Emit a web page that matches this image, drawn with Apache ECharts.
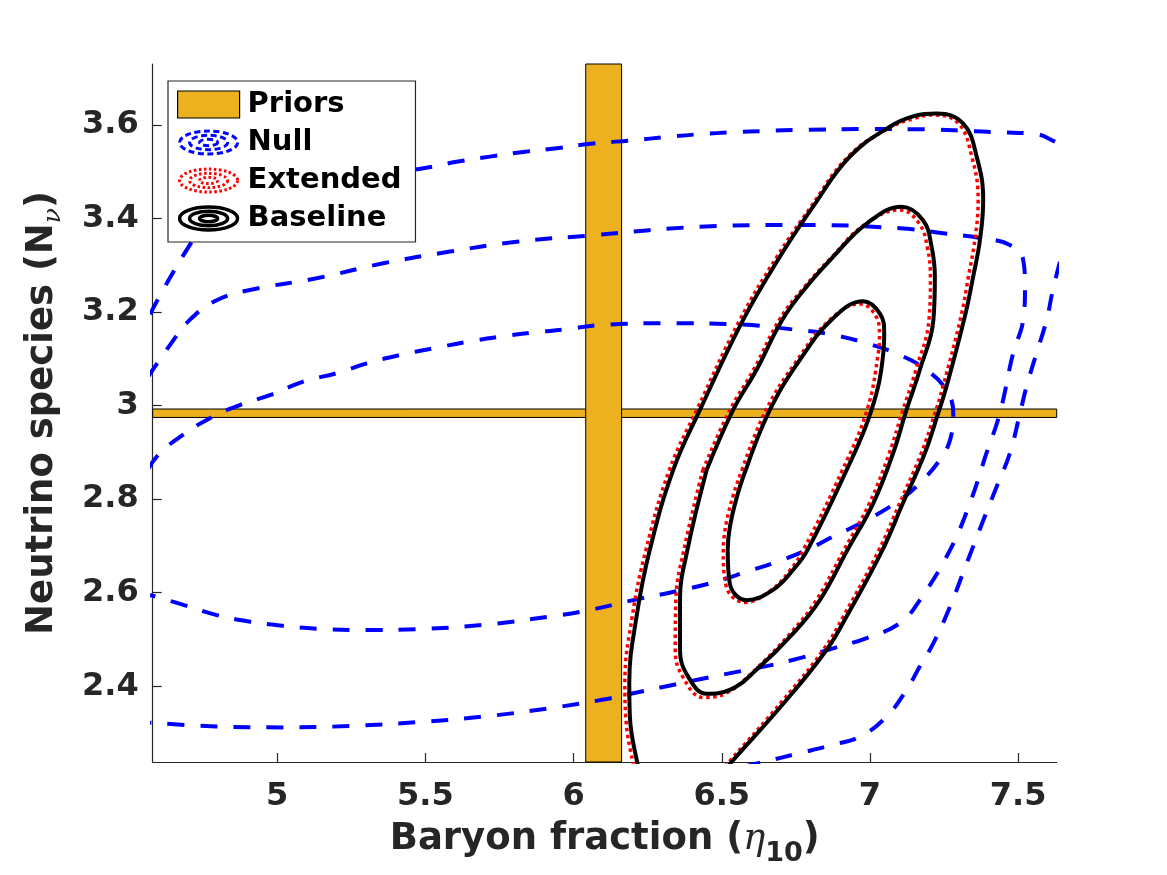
<!DOCTYPE html>
<html><head><meta charset="utf-8">
<script src="https://cdn.jsdelivr.net/npm/echarts@6/dist/echarts.min.js"></script>
<style>html,body{margin:0;padding:0;background:#fff}#c{width:1167px;height:875px}</style>
</head><body><div id="c"></div>
<script>
// ---- axis ranges and ticks ----
const xRange = [4.58, 7.63];
const yRange = [2.238, 3.73];
const xTicks = [5, 5.5, 6, 6.5, 7, 7.5];
const yTicks = [2.4, 2.6, 2.8, 3.0, 3.2, 3.4, 3.6];

// ---- priors (bands) ----
const priorEta = [6.041, 6.162];
const priorN = [2.9745, 2.9925];

// ---- Baseline contours (black solid) ----
const baselineOuter = [[6.227,2.217],[6.2145,2.238],[6.190,2.335],[6.188,2.406],[6.2125,2.549],[6.257,2.691],[6.336,2.862],[6.426,2.990],[6.572,3.183],[6.696,3.318],[6.808,3.425],[6.932,3.532],[7.067,3.596],[7.151,3.619],[7.225,3.624],[7.314,3.603],[7.360,3.532],[7.382,3.439],[7.371,3.354],[7.348,3.275],[7.320,3.190],[7.258,3.040],[7.230,2.983],[7.185,2.898],[7.111,2.791],[7.042,2.691],[6.921,2.549],[6.854,2.478],[6.719,2.371],[6.533,2.238],[6.494,2.210]];
const baselineMiddle = [[6.449,2.862],[6.538,2.990],[6.617,3.076],[6.704,3.183],[6.786,3.254],[6.876,3.318],[6.989,3.389],[7.107,3.425],[7.179,3.396],[7.208,3.339],[7.219,3.275],[7.214,3.183],[7.168,3.076],[7.123,2.990],[7.078,2.898],[7.011,2.791],[6.924,2.691],[6.831,2.584],[6.741,2.513],[6.617,2.435],[6.527,2.392],[6.449,2.384],[6.387,2.420],[6.359,2.478],[6.359,2.584],[6.384,2.691],[6.449,2.862]];
const baselineInner = [[6.581,2.862],[6.662,2.990],[6.763,3.097],[6.875,3.186],[6.977,3.223],[7.033,3.197],[7.048,3.155],[7.045,3.112],[7.005,2.990],[6.921,2.862],[6.789,2.691],[6.741,2.649],[6.673,2.606],[6.584,2.584],[6.527,2.620],[6.520,2.691],[6.581,2.862]];

// ---- Extended contours (red dotted) ----
const extendedOuter = [[6.214,2.217],[6.200,2.238],[6.176,2.335],[6.173,2.406],[6.198,2.549],[6.244,2.691],[6.323,2.862],[6.415,2.990],[6.561,3.183],[6.686,3.318],[6.801,3.425],[6.925,3.531],[7.060,3.592],[7.151,3.614],[7.212,3.621],[7.297,3.604],[7.344,3.531],[7.365,3.439],[7.354,3.354],[7.332,3.275],[7.307,3.190],[7.246,3.040],[7.219,2.983],[7.173,2.898],[7.100,2.791],[7.030,2.691],[6.910,2.549],[6.843,2.478],[6.708,2.371],[6.524,2.238],[6.483,2.210]];
const extendedMiddle = [[6.436,2.862],[6.527,2.990],[6.607,3.076],[6.694,3.183],[6.777,3.252],[6.868,3.315],[6.979,3.385],[7.101,3.418],[7.165,3.390],[7.194,3.337],[7.204,3.272],[7.199,3.183],[7.155,3.076],[7.111,2.990],[7.065,2.898],[6.998,2.791],[6.912,2.691],[6.819,2.584],[6.730,2.512],[6.607,2.432],[6.517,2.386],[6.438,2.376],[6.372,2.416],[6.343,2.478],[6.345,2.584],[6.372,2.691],[6.436,2.862]];
const extendedInner = [[6.568,2.862],[6.649,2.990],[6.750,3.093],[6.861,3.181],[6.966,3.217],[7.020,3.191],[7.032,3.151],[7.028,3.112],[6.990,2.990],[6.907,2.862],[6.775,2.691],[6.728,2.646],[6.662,2.603],[6.578,2.579],[6.514,2.616],[6.505,2.691],[6.568,2.862]];

// ---- Null contours (blue dashed) ----
const nullInner = [[4.564,2.864],[4.604,2.898],[4.672,2.933],[4.773,2.973],[4.874,3.001],[4.975,3.022],[5.088,3.051],[5.200,3.069],[5.302,3.090],[5.414,3.108],[5.526,3.122],[5.639,3.136],[5.751,3.147],[5.864,3.156],[5.976,3.163],[6.089,3.172],[6.314,3.176],[6.538,3.174],[6.763,3.161],[6.876,3.151],[6.989,3.133],[7.101,3.108],[7.191,3.076],[7.258,3.033],[7.281,2.983],[7.270,2.926],[7.236,2.884],[7.168,2.834],[7.101,2.798],[6.989,2.755],[6.876,2.720],[6.786,2.691],[6.686,2.666],[6.585,2.645],[6.483,2.624],[6.369,2.606],[6.201,2.584],[6.055,2.563],[5.920,2.549],[5.695,2.531],[5.470,2.522],[5.302,2.520],[5.133,2.523],[5.020,2.529],[4.908,2.538],[4.796,2.552],[4.683,2.574],[4.571,2.595]];
const nullMiddle = [[4.564,3.061],[4.638,3.129],[4.705,3.183],[4.796,3.225],[4.908,3.247],[5.133,3.272],[5.358,3.304],[5.583,3.329],[5.808,3.350],[6.066,3.364],[6.426,3.382],[6.763,3.386],[7.101,3.379],[7.247,3.368],[7.382,3.357],[7.472,3.343],[7.517,3.311],[7.523,3.254],[7.517,3.183],[7.483,3.112],[7.438,2.983],[7.393,2.898],[7.337,2.791],[7.270,2.691],[7.168,2.584],[7.101,2.535],[6.989,2.503],[6.876,2.481],[6.763,2.460],[6.651,2.443],[6.538,2.429],[6.426,2.415],[6.314,2.400],[6.201,2.385],[6.106,2.372],[5.920,2.353],[5.695,2.335],[5.470,2.323],[5.245,2.315],[5.020,2.312],[4.796,2.314],[4.571,2.322]];
const nullOuterA = [[4.571,3.195],[4.628,3.262],[4.712,3.350],[4.773,3.407],[4.857,3.443],[4.942,3.465],[5.077,3.478],[5.245,3.490],[5.414,3.501],[5.493,3.507],[5.605,3.521],[5.718,3.532],[5.830,3.542],[5.943,3.550],[6.066,3.560],[6.201,3.567],[6.314,3.574],[6.426,3.580],[6.538,3.584],[6.651,3.587],[6.763,3.589],[6.989,3.591],[7.214,3.590],[7.326,3.587],[7.438,3.584],[7.562,3.580],[7.624,3.564],[7.641,3.557]];
const nullOuterB = [[7.641,3.307],[7.617,3.247],[7.596,3.183],[7.562,3.112],[7.528,3.040],[7.506,2.983],[7.472,2.898],[7.427,2.826],[7.374,2.741],[7.324,2.659],[7.270,2.570],[7.214,2.492],[7.168,2.442],[7.123,2.392],[7.056,2.335],[6.966,2.292],[6.876,2.275],[6.763,2.257],[6.640,2.238],[6.527,2.221]];

// ---- legend icons ----
function svgIcon(color, width, dash) {
  const d = dash ? " stroke-dasharray='" + dash + "'" : '';
  const svg = "<svg xmlns='http://www.w3.org/2000/svg' width='62' height='27' viewBox='0 0 62 27'>" +
    "<g fill='none' stroke='" + color + "' stroke-width='" + width + "'" + d + ">" +
    "<ellipse cx='31' cy='13.5' rx='29' ry='11.5'/>" +
    "<ellipse cx='31' cy='13.5' rx='19' ry='7.2'/>" +
    "<ellipse cx='31' cy='13.5' rx='9' ry='3.2'/></g></svg>";
  return 'image://data:image/svg+xml;charset=utf-8,' + encodeURIComponent(svg);
}

const FONT = 'DejaVu Sans';
const AX = '#262626';

function contour(name, data, color, width, dash, cap, z) {
  return {
    name: name, type: 'line', data: data, smooth: 0.42, symbol: 'none',
    showSymbol: false, clip: true, z: z, silent: true,
    lineStyle: { color: color, width: width, type: dash, cap: cap, join: 'round' },
    itemStyle: { color: color },
    emphasis: { disabled: true }
  };
}

const chart = echarts.init(document.getElementById('c'), null, { renderer: 'canvas' });
chart.setOption({
  animation: false,
  backgroundColor: '#fff',
  textStyle: { fontFamily: FONT },
  grid: { left: 152.7, right: 110.3, top: 64, bottom: 113, containLabel: false, outerBoundsMode: 'none' },
  legend: {
    left: 168, top: 81, orient: 'vertical',
    padding: [9, 14, 9, 9], itemGap: 9, itemWidth: 62, itemHeight: 27,
    backgroundColor: '#fff', borderColor: AX, borderWidth: 1.2,
    selectedMode: false,
    textStyle: { fontSize: 29, fontWeight: 'bold', color: '#000', fontFamily: FONT, padding: [0, 0, 0, 3] },
    data: [
      { name: 'Priors', icon: 'rect', itemStyle: { color: '#EDB120', borderColor: '#000', borderWidth: 1.2 } },
      { name: 'Null', icon: svgIcon('#0000ff', 3, '6 3.5') },
      { name: 'Extended', icon: svgIcon('#ff0000', 3, '2.5 2.5') },
      { name: 'Baseline', icon: svgIcon('#000000', 3.5, null) }
    ]
  },
  xAxis: {
    type: 'value', min: xRange[0], max: xRange[1],
    splitLine: { show: false },
    axisLine: { show: true, onZero: false, lineStyle: { color: AX, width: 1.2 } },
    axisTick: { show: true, inside: true, length: 9, customValues: xTicks, lineStyle: { color: AX, width: 1.2 } },
    axisLabel: { customValues: xTicks, fontSize: 32, fontWeight: 'bold', color: AX, fontFamily: FONT, margin: 19 },
    name: '{a|Baryon fraction (}{g|η}{s|10}{a|)}',
    nameLocation: 'middle', nameGap: 59,
    nameTextStyle: {
      color: AX,
      rich: {
        a: { fontSize: 37, fontWeight: 'bold', fontFamily: FONT, color: AX, lineHeight: 42, verticalAlign: 'top' },
        g: { fontSize: 37, fontStyle: 'italic', fontFamily: 'DejaVu Serif', color: AX, lineHeight: 42, verticalAlign: 'top' },
        s: { fontSize: 27, fontWeight: 'bold', fontFamily: FONT, color: AX, lineHeight: 31, padding: [19, 0, 0, 0], verticalAlign: 'top' }
      }
    }
  },
  yAxis: {
    type: 'value', min: yRange[0], max: yRange[1],
    splitLine: { show: false },
    axisLine: { show: true, onZero: false, lineStyle: { color: AX, width: 1.2 } },
    axisTick: { show: true, inside: true, length: 9, customValues: yTicks, lineStyle: { color: AX, width: 1.2 } },
    axisLabel: { customValues: yTicks, fontSize: 32, fontWeight: 'bold', color: AX, fontFamily: FONT, margin: 14 },
    name: '{a|Neutrino species (N}{s|ν}{a|)}',
    nameLocation: 'middle', nameGap: 87,
    nameTextStyle: {
      color: AX,
      rich: {
        a: { fontSize: 37, fontWeight: 'bold', fontFamily: FONT, color: AX, lineHeight: 42, verticalAlign: 'top' },
        s: { fontSize: 25, fontStyle: 'italic', fontFamily: 'DejaVu Serif', color: AX, lineHeight: 29, padding: [17, 0, 0, 0], verticalAlign: 'top' }
      }
    }
  },
  series: [
    {
      name: 'Priors', type: 'line', data: [], z: 1, silent: true,
      itemStyle: { color: '#EDB120' },
      markArea: {
        silent: true,
        itemStyle: { color: '#EDB120', borderColor: '#000', borderWidth: 1 },
        data: [
          [{ yAxis: priorN[0] }, { yAxis: priorN[1] }],
          [{ xAxis: priorEta[0] }, { xAxis: priorEta[1] }]
        ]
      }
    },
    contour('Null', nullOuterA, '#0000ff', 4, [17, 16], 'butt', 3),
    contour('Null', nullOuterB, '#0000ff', 4, [17, 16], 'butt', 3),
    contour('Null', nullMiddle, '#0000ff', 4, [17, 16], 'butt', 3),
    contour('Null', nullInner, '#0000ff', 4, [17, 16], 'butt', 3),
    contour('Extended', extendedOuter, '#ff0000', 3.5, [3.5, 3.5], 'butt', 4),
    contour('Extended', extendedMiddle, '#ff0000', 3.5, [3.5, 3.5], 'butt', 4),
    contour('Extended', extendedInner, '#ff0000', 3.5, [3.5, 3.5], 'butt', 4),
    contour('Baseline', baselineOuter, '#000000', 4, 'solid', 'round', 5),
    contour('Baseline', baselineMiddle, '#000000', 4, 'solid', 'round', 5),
    contour('Baseline', baselineInner, '#000000', 4, 'solid', 'round', 5)
  ]
});
</script>
</body></html>
